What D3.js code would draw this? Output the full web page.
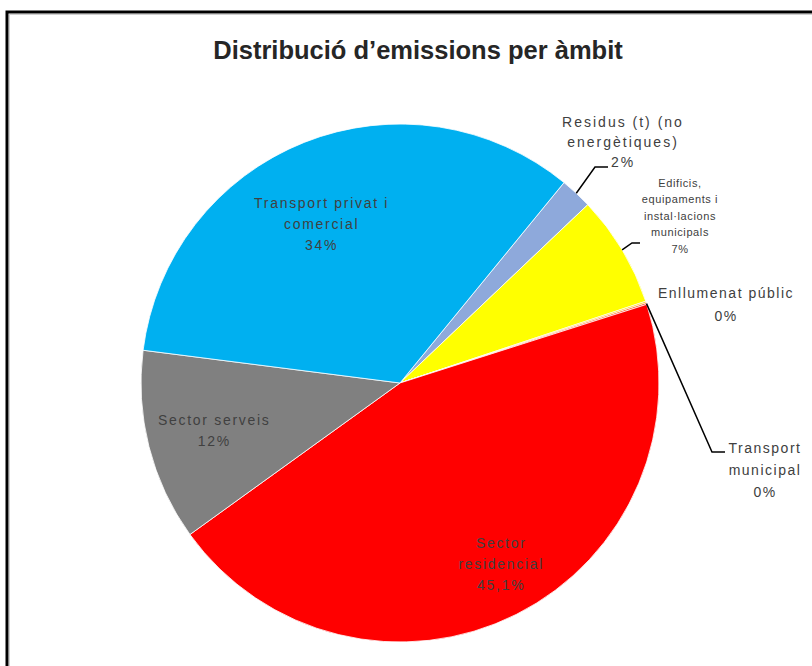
<!DOCTYPE html>
<html>
<head>
<meta charset="utf-8">
<script src="https://cdn.jsdelivr.net/npm/d3@7"></script>
<style>
  html, body { margin: 0; padding: 0; background: #ffffff; }
  svg { display: block; }
  text { font-family: "Liberation Sans", Arial, sans-serif; }
</style>
</head>
<body>
<svg id="chart" width="812" height="666"></svg>
<script>
// ---- data ----
const title = "Distribució d’emissions per àmbit";
const categories = [
  "Residus (t) (no energètiques)",
  "Edificis, equipaments i instal·lacions municipals",
  "Enllumenat públic",
  "Transport municipal",
  "Sector residencial",
  "Sector serveis",
  "Transport privat i comercial"
];
const values = [2, 7, 0.1, 0.1, 45.1, 12, 34];
const percentLabels = ["2%", "7%", "0%", "0%", "45,1%", "12%", "34%"];
const labelLines = [
  ["Residus (t) (no", "energètiques)"],
  ["Edificis,", "equipaments i", "instal·lacions", "municipals"],
  ["Enllumenat públic"],
  ["Transport", "municipal"],
  ["Sector", "residencial"],
  ["Sector serveis"],
  ["Transport privat i", "comercial"]
];
const colors = ["#8EA9DB", "#FFFF00", "#FFD000", "#FF4000", "#FF0000", "#808080", "#00B0F0"];

// ---- layout ----
const svg = d3.select("#chart");
const cx = 400, cy = 383, R = 259;
const deg = Math.PI / 180;
const startA = 39.3 * deg;

// frame
svg.append("rect").attr("x", 7).attr("y", 12).attr("width", 830).attr("height", 680)
  .attr("fill", "#ffffff").attr("stroke", "#000000").attr("stroke-width", 3);
svg.append("rect").attr("x", 9.5).attr("y", 14.5).attr("width", 830).attr("height", 680)
  .attr("fill", "none").attr("stroke", "#d0d0d0").attr("stroke-width", 1);

// title
svg.append("text").attr("x", 418).attr("y", 59).attr("text-anchor", "middle")
  .attr("font-size", 25.5).attr("font-weight", "bold").attr("fill", "#262626")
  .text(title);

const pie = d3.pie().sort(null).value(d => d).startAngle(startA).endAngle(startA + 2 * Math.PI);
const arcs = pie(values);
const arc = d3.arc().innerRadius(0).outerRadius(R);
const edgeArc = d3.arc().innerRadius(R).outerRadius(R);

const g = svg.append("g").attr("transform", `translate(${cx},${cy})`);
g.selectAll("path.slice").data(arcs).enter().append("path")
  .attr("class", "slice")
  .attr("d", arc)
  .attr("fill", (d, i) => colors[i])
  .attr("stroke", "#ffffff").attr("stroke-width", 0.8);

// inside labels: radial factor and small angular nudge for each label
const insideFactor = {4: 0.80, 5: 0.74, 6: 0.685};
const insideNudge = {4: -2.5 * deg, 5: 0, 6: -4.5 * deg};
[4, 5, 6].forEach(i => {
  const a = arcs[i];
  const mid = (a.startAngle + a.endAngle) / 2 + insideNudge[i];
  const r = R * insideFactor[i];
  const x = r * Math.sin(mid), y = -r * Math.cos(mid);
  const lines = labelLines[i].concat([percentLabels[i]]);
  const lh = 21;
  const t = g.append("text").attr("text-anchor", "middle")
    .attr("font-size", 14).attr("fill", "#404040").attr("letter-spacing", 1.7);
  lines.forEach((s, k) => {
    t.append("tspan").attr("x", x).attr("y", y + (k - (lines.length - 1) / 2) * lh + 5).text(s);
  });
});

// outside labels with callouts (offsets relative to pie centre)
function outsideLabel(i, x, y, lh, fs, ls) {
  const lines = labelLines[i].concat([percentLabels[i]]);
  const t = g.append("text").attr("text-anchor", "middle")
    .attr("font-size", fs).attr("fill", "#404040").attr("letter-spacing", ls);
  lines.forEach((s, k) => {
    t.append("tspan").attr("x", x).attr("y", y + (k - (lines.length - 1) / 2) * lh + fs * 0.36).text(s);
  });
}
function leader(i, pts) {
  const p0 = edgeArc.centroid(arcs[i]);
  g.append("path").attr("d", d3.line()([p0].concat(pts)))
    .attr("fill", "none").attr("stroke", "#000000").attr("stroke-width", 1.5);
}

outsideLabel(0, 223, -241, 20, 14, 2);
leader(0, [[195, -216], [208, -216]]);
outsideLabel(1, 280, -167, 16.5, 11, 0.6);
leader(1, [[232, -140], [240, -140]]);
outsideLabel(2, 326, -79, 23, 14, 1.5);
outsideLabel(3, 365, 87, 22, 14, 1.5);
leader(3, [[312, 69], [325, 69]]);
</script>
</body>
</html>
